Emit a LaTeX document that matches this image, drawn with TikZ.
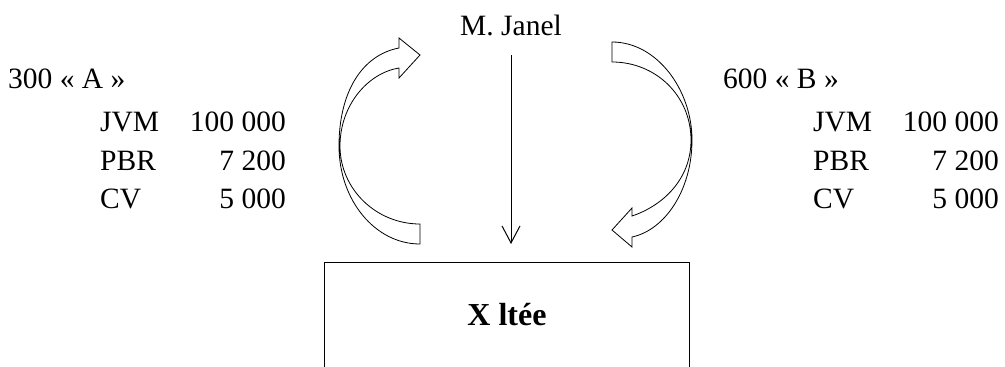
\documentclass[tikz,border=0pt]{standalone}
\usepackage{fontspec}
\setmainfont{Liberation Serif}
\usetikzlibrary{arrows.meta}
\begin{document}
\begin{tikzpicture}[x=1pt,y=-1pt,
  txt/.style={inner sep=0pt,font=\fontsize{29.5}{34}\selectfont},
  ribbon/.style={draw=black,fill=white,line width=0.8pt,line join=miter},
  thinline/.style={draw=black,line width=1pt}]
\useasboundingbox (0,0) rectangle (1005,367);
% left block
\node[txt,anchor=base west] (a0) at (8,88) {300 « A »};
\node[txt,anchor=base west] (a1) at (100,131) {JVM};
\node[txt,anchor=base east] (a1v) at (286,131) {100 000};
\node[txt,anchor=base west] (a2) at (100,170) {PBR};
\node[txt,anchor=base east] (a2v) at (286,170) {7 200};
\node[txt,anchor=base west] (a3) at (100,208) {CV};
\node[txt,anchor=base east] (a3v) at (286,208) {5 000};
% right block
\node[txt,anchor=base west] (b0) at (723,88) {600 « B »};
\node[txt,anchor=base west] (b1) at (813,131) {JVM};
\node[txt,anchor=base east] (b1v) at (999,131) {100 000};
\node[txt,anchor=base west] (b2) at (813,170) {PBR};
\node[txt,anchor=base east] (b2v) at (999,170) {7 200};
\node[txt,anchor=base west] (b3) at (813,208) {CV};
\node[txt,anchor=base east] (b3v) at (999,208) {5 000};
% top name
\node[txt,anchor=base] (janel) at (511,35) {M. Janel};
% box
\draw[thinline] (324,368) -- (324,262) -- (689,262) -- (689,368);
\node[txt,anchor=base,font=\fontsize{32}{36}\selectfont\bfseries] (xltee) at (507,325) {X ltée};
% vertical arrow
\coordinate (vtop) at (511,55);
\coordinate (vbot) at (511,244);
\draw[thinline,-{Straight Barb[length=17pt,width=18pt,line width=1pt]}] (vtop) -- (vbot);
% left curved arrow
\path[ribbon] (420,224) .. controls (376,224) and (340,189) .. (340,146)
  .. controls (340,105) and (368,73) .. (399,68)
  -- (399,78) -- (420,55) -- (399,38) -- (399,48)
  .. controls (362,55) and (339,92) .. (339,146)
  .. controls (339,200) and (375,244) .. (420,244) -- cycle;
% right curved arrow
\path[ribbon] (612,42) .. controls (657,42) and (692,90) .. (692,140)
  .. controls (692,190) and (665,230) .. (632,237)
  -- (632,247) -- (612,230) -- (632,208) -- (632,216)
  .. controls (662,206) and (691,180) .. (691,140)
  .. controls (691,96) and (656,62) .. (612,62) -- cycle;
\end{tikzpicture}
\end{document}
